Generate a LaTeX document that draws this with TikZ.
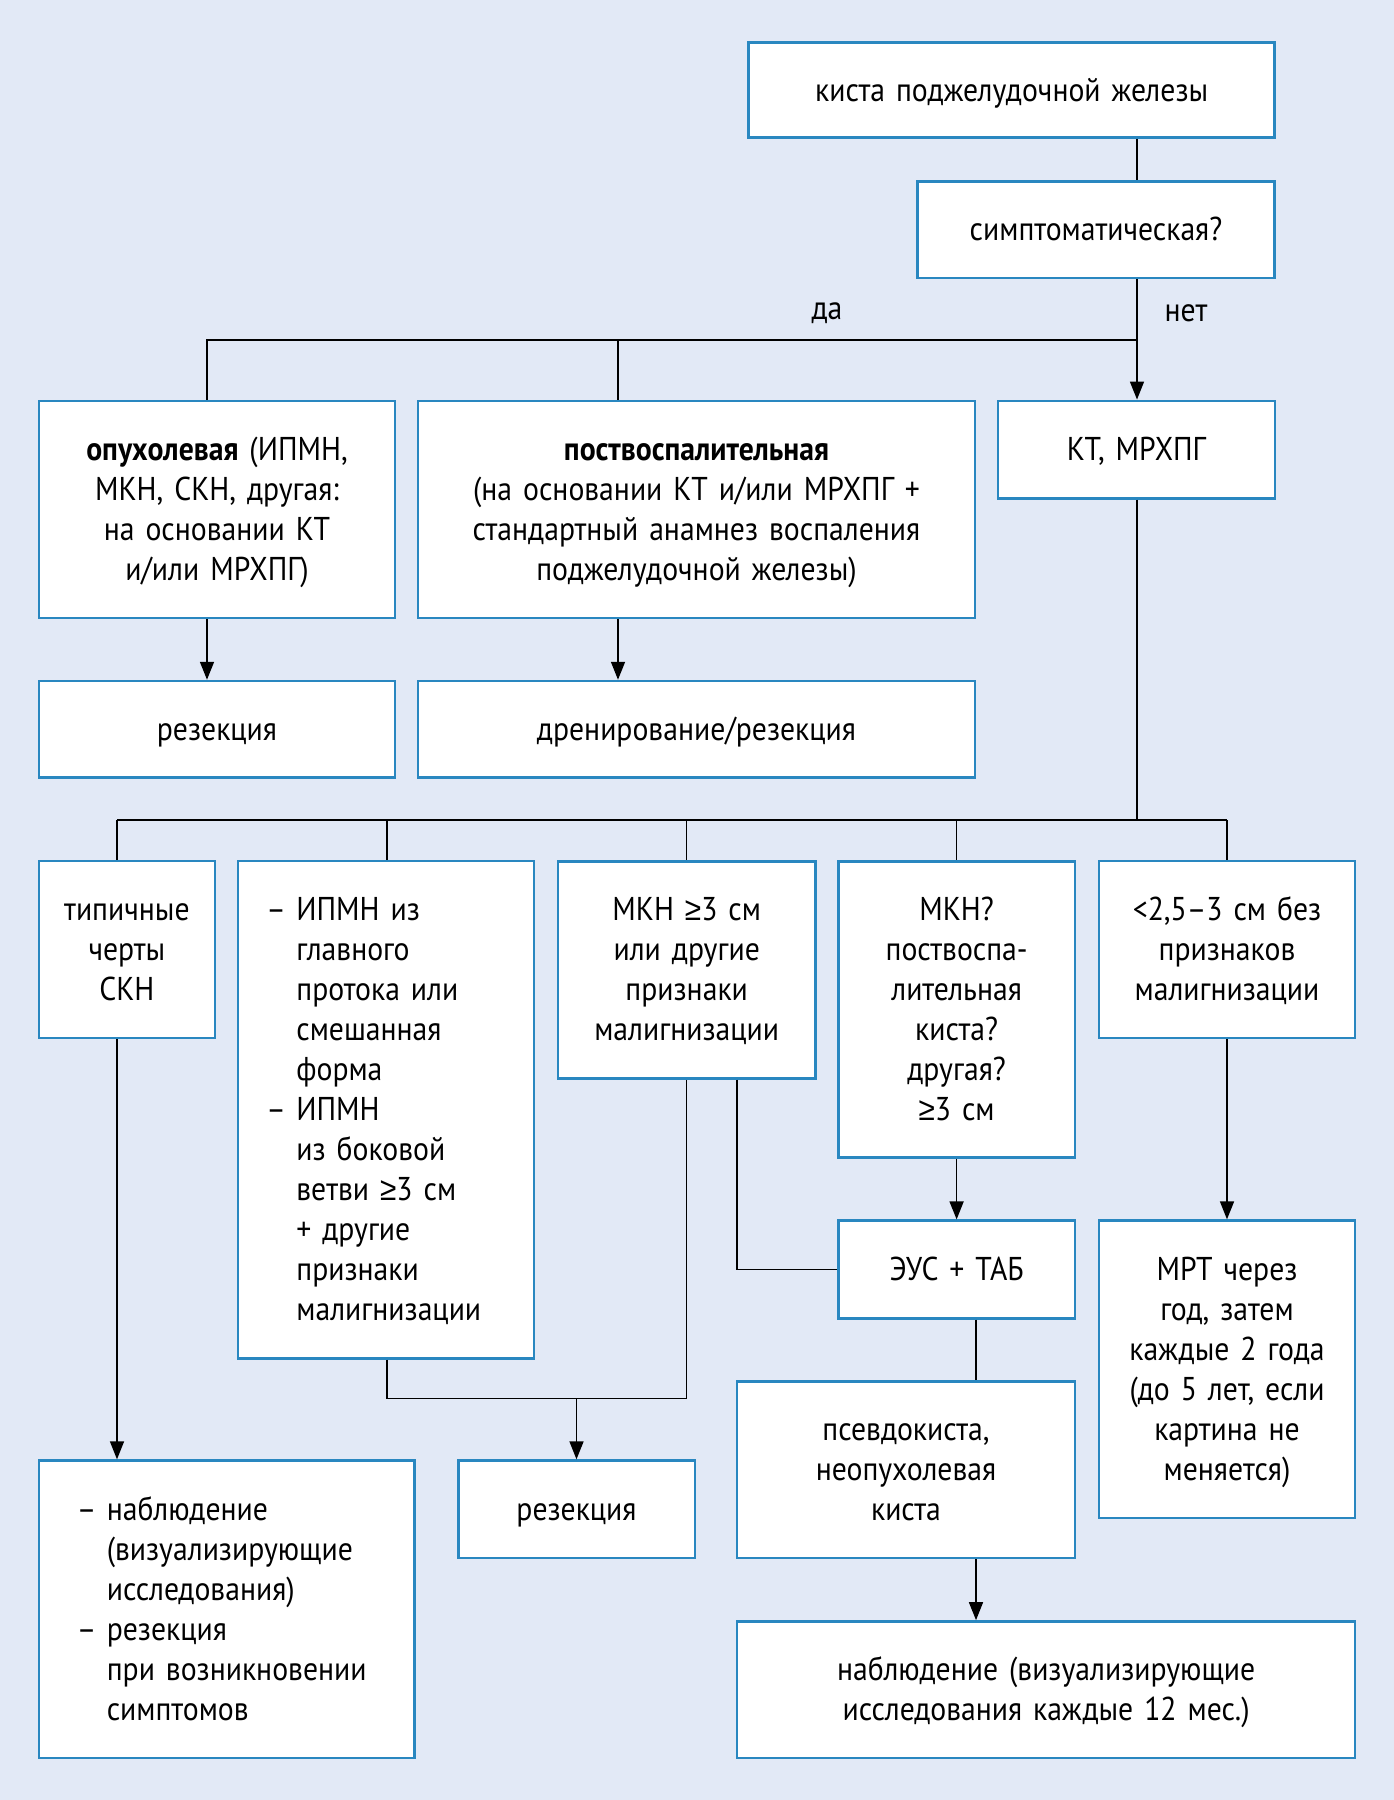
\documentclass[tikz,border=0pt]{standalone}
\usepackage{fontspec}
\setmainfont{PT Sans}[FakeStretch=0.9]
\newfontfamily\symfont{Liberation Sans}[FakeStretch=0.9]
\usetikzlibrary{arrows.meta, positioning}
\definecolor{bgblue}{RGB}{226,233,246}
\definecolor{boxblue}{RGB}{41,135,192}
\newcommand{\li}{\makebox[30pt][l]{–}}
\newcommand{\lind}{\hspace*{30pt}}
\newcommand{\gsym}{{\symfont ≥}}

\begin{document}
\begin{tikzpicture}[x=1pt, y=-1pt,
    box/.style={draw=boxblue, line width=2.5pt, fill=white, inner sep=0pt, align=center,
      font=\fontsize{33}{40}\selectfont,
      execute at begin node={\rule{0pt}{34pt}}, execute at end node={\strut}},
    lbl/.style={font=\fontsize{33}{40}\selectfont},
    conn/.style={line width=1.5pt},
    arr/.style={conn, -{Triangle[width=14pt,length=18pt]}}]
  \fill[bgblue] (0,0) rectangle (1394,1800);
  \useasboundingbox (0,0) rectangle (1394,1800);

  % top of the chart
  \node[box, minimum width=526, minimum height=95, text width=510] (kista) at (1011.7,90.2) {киста поджелудочной железы};
  \node[box, minimum width=357, minimum height=96.5, text width=345] (simpt) at (1096,229.7) {симптоматическая?};
  \node[lbl] (yes) at (827,313) {да};
  \node[lbl] (no) at (1186,313) {нет};

  % first row
  \node[box, minimum width=356, minimum height=217, text width=346] (opux) at (217,509.3)
    {\textbf{опухолевая} (ИПМН,\\ МКН, СКН, другая:\\ на основании КТ\\ и/или МРХПГ)};
  \node[box, minimum width=557, minimum height=217, text width=545] (postv) at (696.5,509.3)
    {\textbf{поствоспалительная}\\ (на основании КТ и/или МРХПГ +\\ стандартный анамнез воспаления\\ поджелудочной железы)};
  \node[box, minimum width=277, minimum height=97.6, text width=265] (kt) at (1136.3,449.6) {КТ, МРХПГ};
  \node[box, minimum width=356, minimum height=96.4, text width=346] (rez1) at (217,729.2) {резекция};
  \node[box, minimum width=557, minimum height=96.4, text width=545] (dren) at (696.5,729.2) {дренирование/резекция};

  % second row
  \node[box, minimum width=175.7, minimum height=177, text width=170] (skn) at (126.9,949.7) {типичные\\ черты\\ СКН};
  \node[box, align=left, minimum width=296.3, minimum height=497.2, text width=239] (ipmn) at (385.9,1109.8)
    {\li ИПМН из\\ \lind главного\\ \lind протока или\\ \lind смешанная\\ \lind форма\\
     \li ИПМН\\ \lind из боковой\\ \lind ветви \gsym3 см\\ \lind + другие\\ \lind признаки\\ \lind малигнизации};
  \node[box, minimum width=257.3, minimum height=217.1, text width=250] (mkn3) at (686.7,969.8)
    {МКН \gsym3 см\\ или другие\\ признаки\\ малигнизации};
  \node[box, minimum width=236.5, minimum height=296.3, text width=230] (mknq) at (956.6,1009.4)
    {МКН?\\ поствоспа-\\ лительная\\ киста?\\ другая?\\ \gsym3 см};
  \node[box, minimum width=256, minimum height=177, text width=250] (small) at (1227,949.7)
    {<2,5–3 см без\\ признаков\\ малигнизации};

  % lower part
  \node[box, minimum width=236.5, minimum height=97.7, text width=230] (eus) at (956.6,1269.5) {ЭУС + ТАБ};
  \node[box, minimum width=256, minimum height=297.4, text width=250] (mrt) at (1227,1369.3)
    {МРТ через\\ год, затем\\ каждые 2 года\\ (до 5 лет, если\\ картина не\\ меняется)};
  \node[box, minimum width=337.6, minimum height=176.8, text width=330] (pseudo) at (906,1469.8)
    {псевдокиста,\\ неопухолевая\\ киста};
  \node[box, align=left, minimum width=375.5, minimum height=297.4, text width=300] (nabl1) at (226.8,1609.3)
    {\li наблюдение\\ \lind (визуализирующие\\ \lind исследования)\\ \li резекция\\ \lind при возникновении\\ \lind симптомов};
  \node[box, minimum width=236.5, minimum height=97.6, text width=230] (rez2) at (576.5,1509.4) {резекция};
  \node[box, minimum width=617.8, minimum height=136.6, text width=605] (nabl2) at (1046.1,1689.7)
    {наблюдение (визуализирующие\\ исследования каждые 12 мес.)};

  % junctions
  \coordinate (split1) at (1137,340);
  \coordinate (d1) at (207,340);
  \coordinate (d2) at (618,340);
  \coordinate (split2) at (1137,820);
  \coordinate (e1) at (117,820);
  \coordinate (e2) at (387,820);
  \coordinate (e3) at (686.7,820);
  \coordinate (e4) at (956.6,820);
  \coordinate (e5) at (1227,820);
  \coordinate (j1) at (576.5,1398.6);
  \coordinate (c1) at (737.2,1270);
  \coordinate (q1) at (976,1400);

  % connectors
  \draw[conn] (kista.south -| split1) -- (simpt.north -| split1);
  \draw[conn] (simpt.south -| split1) -- (split1);
  \draw[arr] (split1) -- (kt.north -| split1);
  \draw[conn] (split1) -- (d1) -- (d1 |- opux.north);
  \draw[conn] (d2) -- (d2 |- postv.north);
  \draw[arr] (opux.south -| d1) -- (rez1.north -| d1);
  \draw[arr] (postv.south -| d2) -- (dren.north -| d2);

  \draw[conn] (kt.south -| split2) -- (split2);
  \draw[conn] (e1) -- (e5);
  \draw[conn] (e1) -- (e1 |- skn.north);
  \draw[conn] (e2) -- (e2 |- ipmn.north);
  \draw[conn] (e3) -- (e3 |- mkn3.north);
  \draw[conn] (e4) -- (e4 |- mknq.north);
  \draw[conn] (e5) -- (e5 |- small.north);

  \draw[arr] (skn.south -| e1) -- (nabl1.north -| e1);
  \draw[conn] (ipmn.south -| e2) |- (j1 -| e3) -- (mkn3.south -| e3);
  \draw[arr] (j1) -- (rez2.north);
  \draw[conn] (mkn3.south -| c1) |- (eus.west);
  \draw[arr] (mknq.south) -- (eus.north);
  \draw[arr] (small.south) -- (mrt.north);
  \draw[conn] (eus.south -| q1) -- (pseudo.north -| q1);
  \draw[arr] (pseudo.south -| q1) -- (nabl2.north -| q1);
\end{tikzpicture}
\end{document}
